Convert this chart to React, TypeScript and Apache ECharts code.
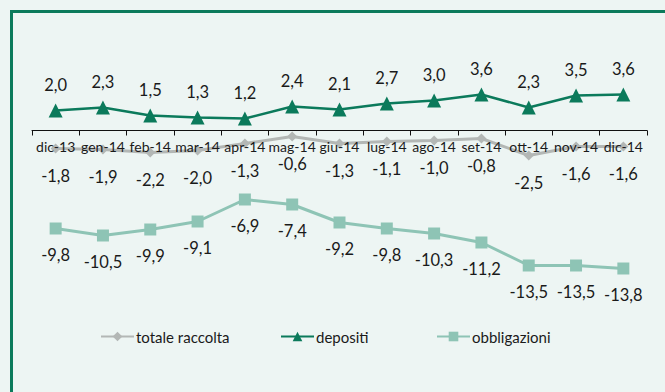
import React, { useEffect, useRef } from "react";
import * as echarts from "echarts";

// Monthly growth rates (%) of bank funding, Dec 2013 – Dec 2014
const months = [
  "dic-13", "gen-14", "feb-14", "mar-14", "apr-14", "mag-14", "giu-14",
  "lug-14", "ago-14", "set-14", "ott-14", "nov-14", "dic-14",
];
const totaleRaccolta = [-1.8, -1.9, -2.2, -2.0, -1.3, -0.6, -1.3, -1.1, -1.0, -0.8, -2.5, -1.6, -1.6];
const depositi = [2.0, 2.3, 1.5, 1.3, 1.2, 2.4, 2.1, 2.7, 3.0, 3.6, 2.3, 3.5, 3.6];
const obbligazioni = [-9.8, -10.5, -9.9, -9.1, -6.9, -7.4, -9.2, -9.8, -10.3, -11.2, -13.5, -13.5, -13.8];

const FONT = "Lato, 'DejaVu Sans', sans-serif";
const GREEN = "#0b7a5b";
const GREY = "#b3b7b5";
const TEAL = "#8ec4b5";
const BG = "#edf5f3";

const Y_MIN = -16;
const Y_MAX = 10;
const GRID_TOP = 30.5;
const GRID_H = 260;
// the category axis sits on the zero line, lifted from the grid's bottom edge
const ZERO_OFFSET = -(GRID_H * (0 - Y_MIN)) / (Y_MAX - Y_MIN);

const fmt = (v: number) => v.toFixed(1).replace(".", ",");

export default function App() {
  const ref = useRef<HTMLDivElement>(null);

  useEffect(() => {
    document.body.style.margin = "0";
    const chart = echarts.init(ref.current!, null, { renderer: "svg" });

    const labelStyle = {
      show: true,
      fontFamily: FONT,
      fontSize: 16.5,
      color: "#1a1a1a",
      formatter: (p: any) => fmt(p.value),
    };

    const legendText = { fontFamily: FONT, fontSize: 15, color: "#1a1a1a", padding: [0, 0, 0, -3] };

    chart.setOption({
      animation: false,
      backgroundColor: BG,
      textStyle: { fontFamily: FONT },
      graphic: [
        {
          type: "rect",
          shape: { x: 11.5, y: 11.5, width: 700, height: 420 },
          style: { fill: "none", stroke: GREEN, lineWidth: 3 },
          silent: true,
        },
      ],
      legend: [
        { data: ["totale raccolta"], left: 100, top: 329, padding: 0, itemWidth: 33, itemHeight: 12, textStyle: legendText },
        { data: ["depositi"], left: 280, top: 329, padding: 0, itemWidth: 33, itemHeight: 12, textStyle: legendText },
        { data: ["obbligazioni"], left: 436, top: 329, padding: 0, itemWidth: 33, itemHeight: 12, textStyle: legendText },
      ],
      grid: { left: 32, right: 18, top: GRID_TOP, height: GRID_H },
      xAxis: {
        type: "category",
        data: months,
        boundaryGap: true,
        z: 5,
        offset: ZERO_OFFSET,
        axisLine: { onZero: false, lineStyle: { color: "#111", width: 1 } },
        axisTick: { show: true, length: 5, lineStyle: { color: "#111" } },
        axisLabel: {
          fontFamily: FONT,
          fontSize: 14,
          color: "#1a1a1a",
          margin: 9,
          interval: 0,
        },
      },
      yAxis: {
        type: "value",
        min: Y_MIN,
        max: Y_MAX,
        show: false,
        splitLine: { show: false },
      },
      series: [
        {
          name: "totale raccolta",
          type: "line",
          data: totaleRaccolta,
          z: 2,
          symbol: "diamond",
          symbolSize: 10,
          itemStyle: { color: GREY },
          lineStyle: { color: GREY, width: 3 },
          label: { ...labelStyle, position: "bottom", distance: 14 },
        },
        {
          name: "depositi",
          type: "line",
          data: depositi,
          z: 3,
          symbol: "triangle",
          symbolSize: 14,
          itemStyle: { color: GREEN },
          lineStyle: { color: GREEN, width: 2.5 },
          label: { ...labelStyle, position: "top", distance: 10 },
        },
        {
          name: "obbligazioni",
          type: "line",
          data: obbligazioni,
          z: 3,
          symbol: "rect",
          symbolSize: 12,
          itemStyle: { color: TEAL },
          lineStyle: { color: TEAL, width: 3 },
          label: { ...labelStyle, position: "bottom", distance: 12 },
        },
      ],
    });

    return () => chart.dispose();
  }, []);

  return <div ref={ref} style={{ width: 665, height: 392 }} />;
}
